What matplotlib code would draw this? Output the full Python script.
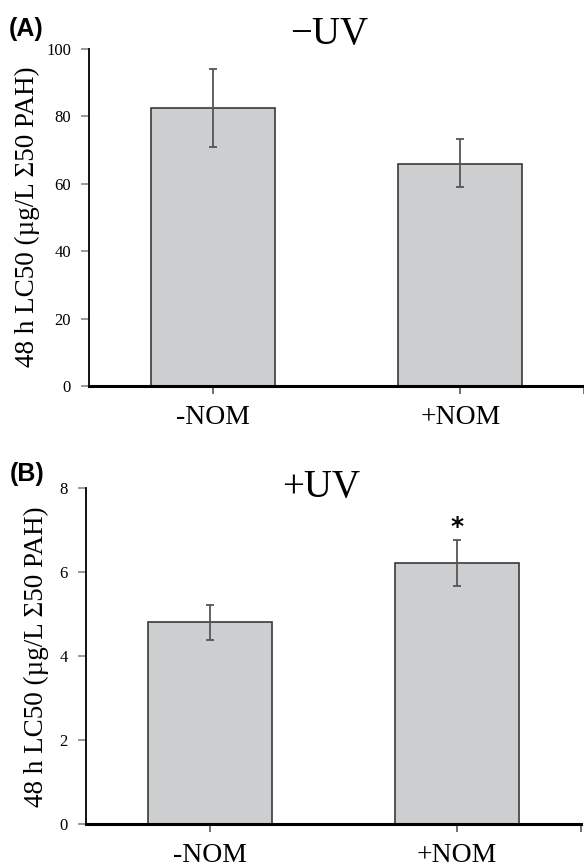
import matplotlib
matplotlib.use("Agg")
import matplotlib.pyplot as plt

# data
groups = ['-NOM', '+NOM']
lc50_dark = [82.5, 66.0]          # -UV
err_dark_lo = [11.6, 7.0]
err_dark_hi = [11.5, 7.3]
lc50_uv = [4.80, 6.22]            # +UV
err_uv_lo = [0.42, 0.55]
err_uv_hi = [0.41, 0.54]

serif = 'Liberation Serif'
bar_col = '#cdced0'
edge_col = '#3a3a3a'
err_col = '#555555'
ylab = '48 h LC50 (µg/L Σ50 PAH)'

W, H = 584, 867
fig = plt.figure(figsize=(W / 100, H / 100), dpi=100)
axA = fig.add_axes([89/W, 1 - 386/H, 495/W, 337/H])
axB = fig.add_axes([86/W, 1 - 824/H, 495/W, 336/H])


def draw(ax, vals, lo, hi, ymax, ystep):
    x = range(len(groups))
    ax.bar(x, vals, width=0.5, color=bar_col, edgecolor=edge_col, linewidth=1.2, zorder=2)
    ax.errorbar(x, vals, yerr=[lo, hi], fmt='none', ecolor=err_col,
                elinewidth=1.3, capsize=3, capthick=1.3, zorder=3)
    ax.set_xlim(-0.5, 1.5)
    ax.set_ylim(0, ymax)
    ax.set_yticks(range(0, ymax + 1, ystep))
    ax.set_xticks(list(x) + [1.5])
    ax.set_xticklabels(groups + [''], fontfamily=serif, fontsize=20)
    for lab in ax.get_yticklabels():
        lab.set_fontfamily(serif)
        lab.set_fontsize(12)
    ax.tick_params(axis='y', direction='out', length=6, width=1.2, color='#888888', pad=7)
    ax.tick_params(axis='x', direction='out', length=6, width=1.2, color='#555555', pad=8)
    for s in ['top', 'right']:
        ax.spines[s].set_visible(False)
    ax.spines['bottom'].set_linewidth(2.2)
    ax.spines['left'].set_linewidth(1.3)


draw(axA, lc50_dark, err_dark_lo, err_dark_hi, 100, 20)
draw(axB, lc50_uv, err_uv_lo, err_uv_hi, 8, 2)

# y labels
fig.text(27/W, 1 - 217/H, ylab, rotation=90, ha='center', va='center',
         fontfamily=serif, fontsize=19.5)
fig.text(36/W, 1 - 657/H, ylab, rotation=90, ha='center', va='center',
         fontfamily=serif, fontsize=19.5)

# significance marker
axB.text(1, 7.07, '*', ha='center', va='center',
         fontsize=18, fontweight='bold', fontfamily='DejaVu Sans')

fig.text(329/W, 1 - 44/H, '−UV', ha='center', va='baseline', fontfamily=serif, fontsize=28)
fig.text(321/W, 1 - 497/H, '+UV', ha='center', va='baseline', fontfamily=serif, fontsize=28)
fig.text(9/W, 1 - 29/H, '(A)', ha='left', va='center', fontfamily='Liberation Sans',
         fontweight='bold', fontsize=18)
fig.text(10/W, 1 - 474/H, '(B)', ha='left', va='center', fontfamily='Liberation Sans',
         fontweight='bold', fontsize=18)

fig.savefig('out.png', dpi=100)
